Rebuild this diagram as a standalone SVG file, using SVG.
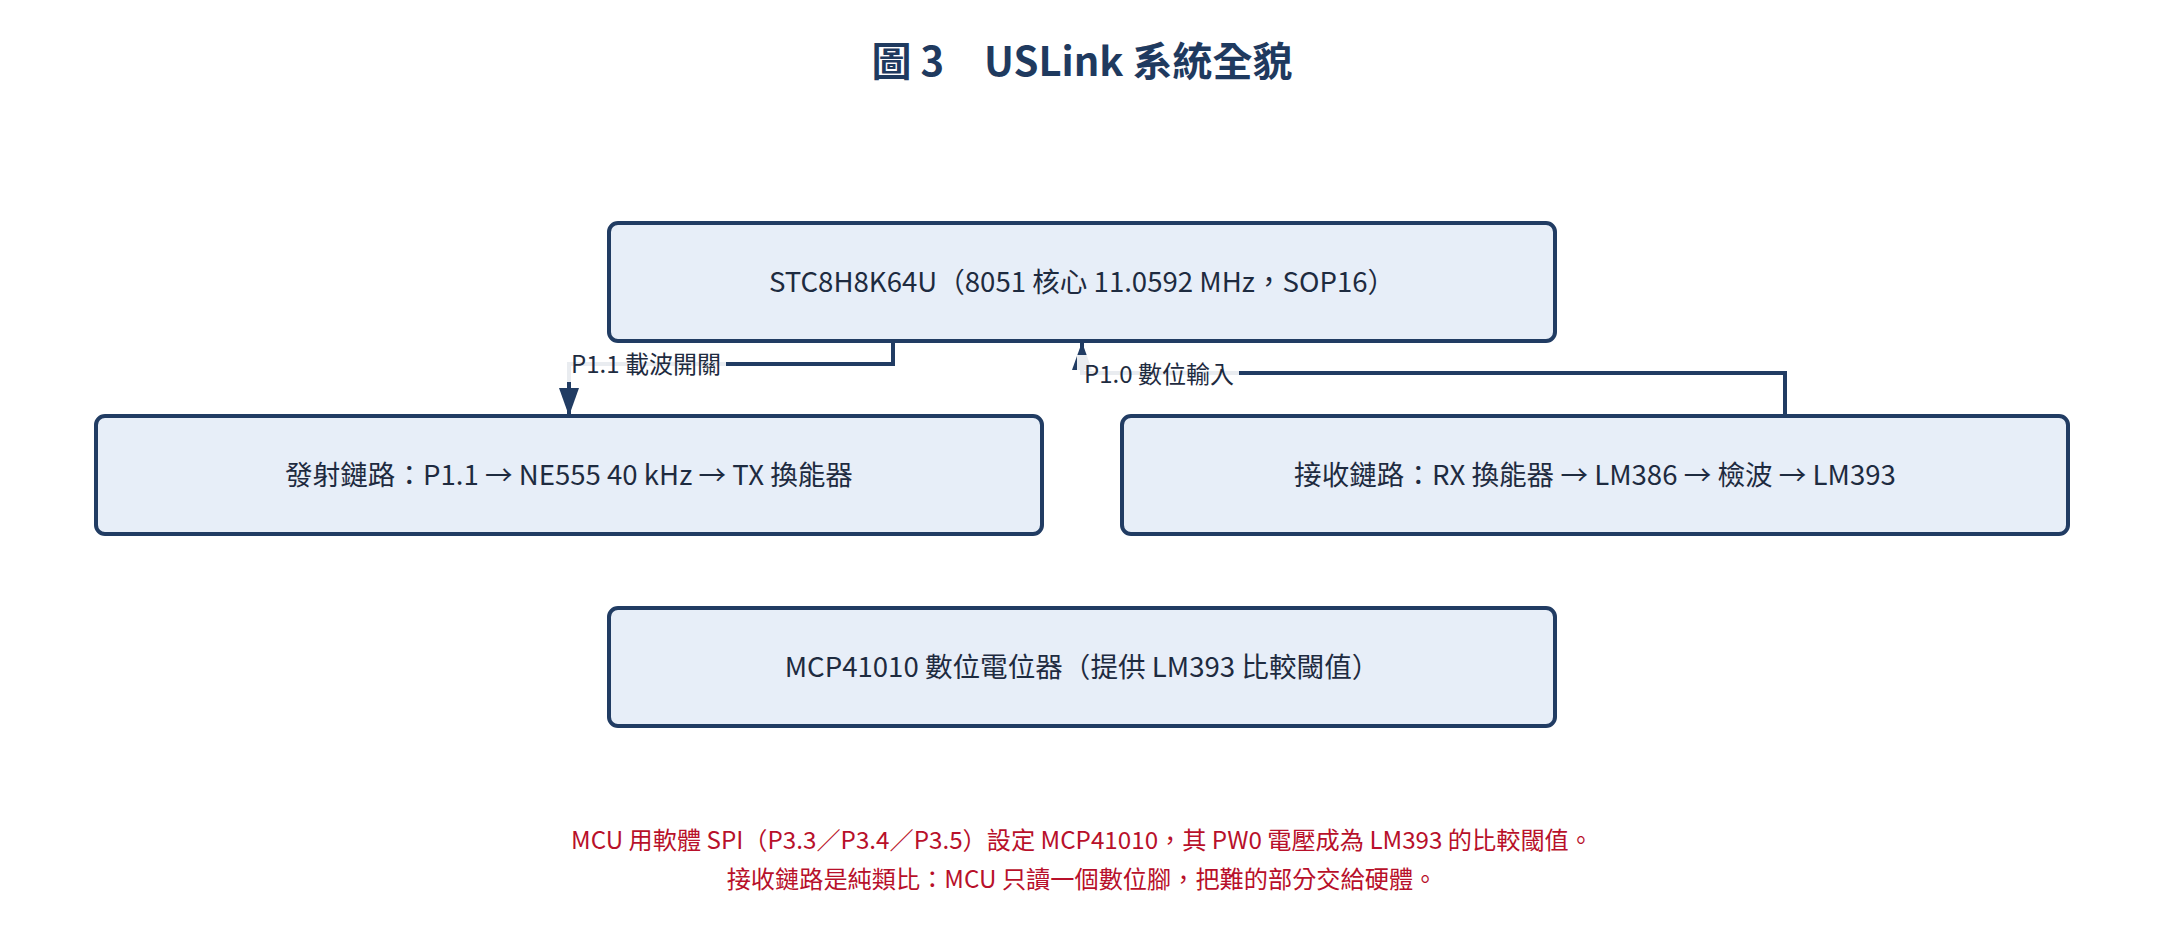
<svg xmlns="http://www.w3.org/2000/svg" width="2164" height="925" viewBox="0 0 2164 925">
  <style>
    .box { fill: #e7eef8; stroke: #213c63; stroke-width: 4; }
    .txt { font-family: "Noto Sans CJK TC", "Noto Sans", sans-serif; font-size: 27.6px; fill: #1e2b40; text-anchor: middle; }
    .title { font-family: "Noto Sans CJK TC", "Noto Sans", sans-serif; font-size: 40px; font-weight: bold; fill: #1f3a5f; text-anchor: middle; }
    .edge { fill: none; stroke: #213c63; stroke-width: 4; }
    .lblbg { fill: #ffffff; fill-opacity: 0.9; }
    .lbl { font-family: "Noto Sans CJK TC", "Noto Sans", sans-serif; font-size: 24px; fill: #1e2b40; text-anchor: middle; }
    .note { font-family: "Noto Sans CJK TC", "Noto Sans", sans-serif; font-size: 24.2px; fill: #b8102a; text-anchor: middle; }
  </style>
  <defs>
    <marker id="arrow" viewBox="0 0 28 20" markerWidth="28" markerHeight="20" refX="28" refY="10" orient="auto" markerUnits="userSpaceOnUse">
      <path d="M0,0 L28,10 L0,20 Z" fill="#213c63"/>
    </marker>
  </defs>
  <rect x="0" y="0" width="2164" height="925" fill="#ffffff"/>

  <text class="title" x="1082" y="76">圖 3　USLink 系統全貌</text>

  <g id="mcu">
    <rect class="box" x="609" y="223" width="946" height="118" rx="9"/>
    <text class="txt" x="1082" y="292">STC8H8K64U（8051 核心 11.0592 MHz，SOP16）</text>
  </g>
  <g id="tx">
    <rect class="box" x="96" y="416" width="946" height="118" rx="9"/>
    <text class="txt" x="569" y="485">發射鏈路：P1.1 → NE555 40 kHz → TX 換能器</text>
  </g>
  <g id="rx">
    <rect class="box" x="1122" y="416" width="946" height="118" rx="9"/>
    <text class="txt" x="1595" y="485">接收鏈路：RX 換能器 → LM386 → 檢波 → LM393</text>
  </g>
  <g id="pot">
    <rect class="box" x="609" y="608" width="946" height="118" rx="9"/>
    <text class="txt" x="1082" y="677">MCP41010 數位電位器（提供 LM393 比較閾值）</text>
  </g>

  <g id="connectors">
    <path class="edge" d="M893,341 V364 H569 V416" marker-end="url(#arrow)"/>
    <path class="edge" d="M1785,416 V373 H1082 V342" marker-end="url(#arrow)"/>
    <rect class="lblbg" x="566" y="346" width="160" height="36"/>
    <text class="lbl" x="646" y="373">P1.1 載波開關</text>
    <rect class="lblbg" x="1077" y="355" width="162" height="36"/>
    <text class="lbl" x="1159" y="383">P1.0 數位輸入</text>
  </g>

  <text class="note" x="1082" y="849">MCU 用軟體 SPI（P3.3／P3.4／P3.5）設定 MCP41010，其 PW0 電壓成為 LM393 的比較閾值。</text>
  <text class="note" x="1082" y="888">接收鏈路是純類比：MCU 只讀一個數位腳，把難的部分交給硬體。</text>
</svg>
